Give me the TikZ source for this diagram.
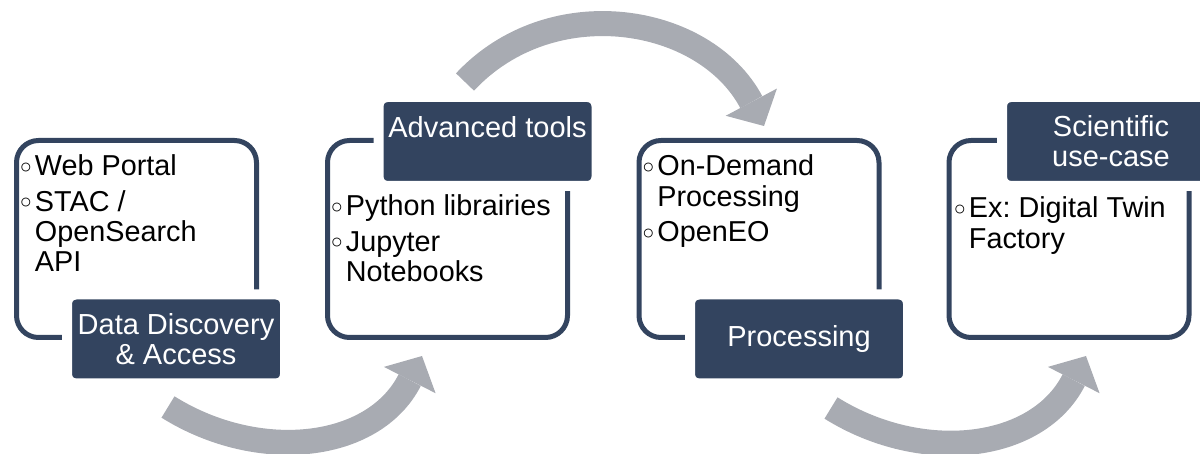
\documentclass[tikz,border=0pt]{standalone}
\usepackage{fontspec}
\setmainfont{Liberation Sans}
\usetikzlibrary{positioning,arrows.meta}
\frenchspacing
\definecolor{navy}{HTML}{33445F}
\definecolor{arrowgray}{HTML}{A8ABB2}
\newcommand{\bul}{\makebox[9pt][c]{\raisebox{1.2pt}{\fontsize{10}{10}\selectfont ○}}}
\newcommand{\ind}{\hspace*{9pt}}
\tikzset{
  frame/.style={rectangle, rounded corners=11pt, draw=navy, line width=2.5pt, minimum width=120pt, minimum height=98.5pt},
  lab/.style={rectangle, rounded corners=4.5pt, fill=navy, draw=white, line width=5pt, minimum width=109pt, minimum height=44.5pt, text=white, font=\fontsize{14.5}{15}\selectfont, align=center, inner sep=0pt},
  items/.style={anchor=north west, inner sep=0pt, align=left, font=\fontsize{14.4}{15.2}\selectfont},
  flow/.style={draw=arrowgray, line width=12.5pt, -{Triangle[length=13.5pt, width=29pt, line width=0pt]}}
}
\begin{document}
\begin{tikzpicture}[x=0.5pt, y=0.5pt]
  \useasboundingbox (0,0) rectangle (1200,-454);
  % frames
  \node[frame] (f1) at (136.5,-239) {};
  \node[frame] (f2) at (447.5,-239) {};
  \node[frame] (f3) at (759,-239) {};
  \node[frame] (f4) at (1069,-239) {};
  % curved arrows
  \coordinate (a1s) at (168,-407);
  \coordinate (a1e) at (422,-356);
  \coordinate (a2s) at (465,-82);
  \coordinate (a2e) at (764,-126);
  \coordinate (a3s) at (831,-408);
  \coordinate (a3e) at (1086,-356);
  \draw[flow] (a1s) to[out=-32, in=-117, looseness=1.05] (a1e);
  \draw[flow] (a2s) to[out=47, in=118, looseness=1.07] (a2e);
  \draw[flow] (a3s) to[out=-32, in=-117, looseness=1.05] (a3e);
  % labels
  \node[lab] (l1) at (176,-339) {Data Discovery\\\& Access};
  \node[lab] (l2) at (487.5,-141.5) {Advanced tools\\\mbox{}};
  \node[lab] (l3) at (799,-339) {Processing};
  \node[lab] (l4) at (1111,-141.5) {Scientific\\use-case};
  % contents
  \node[items] (t1) at (16.5,-154.5) {\bul Web Portal\\[2.5pt]\bul STAC /\\\ind OpenSearch\\\ind API};
  \node[items] (t2) at (327.5,-194.5) {\bul Python librairies\\[2.5pt]\bul Jupyter\\\ind Notebooks};
  \node[items] (t3) at (639,-154.5) {\bul On-Demand\\\ind Processing\\[2.5pt]\bul OpenEO};
  \node[items] (t4) at (950.5,-196.5) {\bul Ex: Digital Twin\\\ind Factory};
\end{tikzpicture}
\end{document}
